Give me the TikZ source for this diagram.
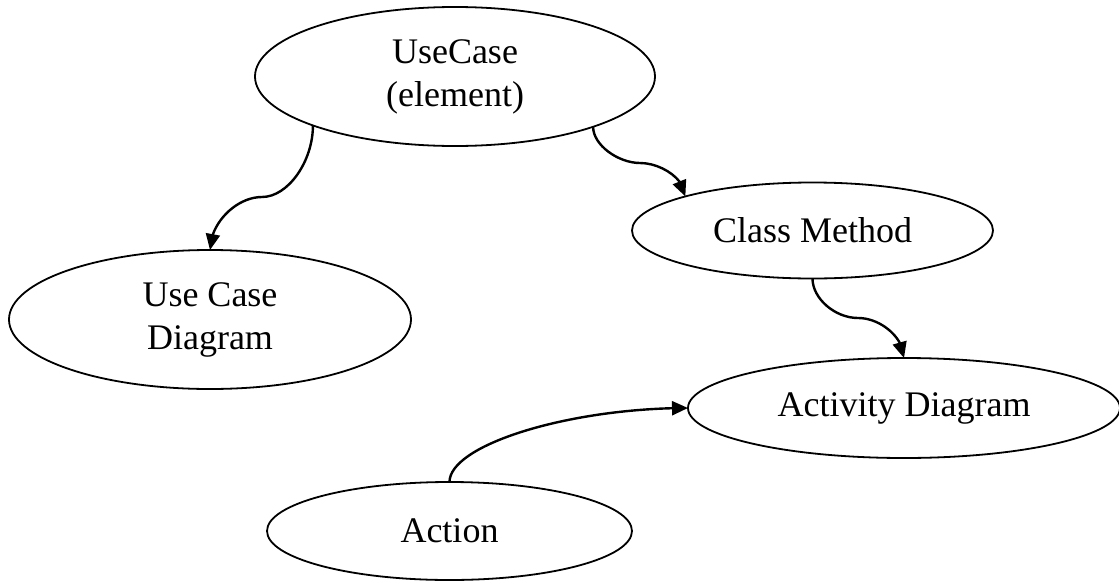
\documentclass[tikz,border=0pt]{standalone}
\usepackage{fontspec}
\setmainfont{Liberation Serif}
\usetikzlibrary{shapes.geometric,arrows.meta,bending}
\tikzset{
  oval/.style={ellipse, draw, line width=1.8pt, inner sep=0pt, outer sep=0pt,
    align=center, font=\fontsize{36}{43}\selectfont},
  link/.style={line width=2.4pt, -{Triangle[length=16pt,width=14pt]}}
}
\begin{document}
\begin{tikzpicture}[x=1pt, y=-1pt]
  \useasboundingbox (0,0) rectangle (1119,581);

  % elements
  \node[oval, minimum width=400pt, minimum height=139pt] (uc)  at (455,76.5)  {UseCase\\(element)};
  \node[oval, minimum width=402pt, minimum height=139pt] (ucd) at (210,319.5) {Use Case\\Diagram};
  \node[oval, minimum width=361pt, minimum height=96pt]  (cm)  at (812.5,230.5) {Class Method};
  \node[oval, minimum width=432pt, minimum height=100pt] (ad)  at (904,408)   {Activity Diagram};
  \node[oval, minimum width=365pt, minimum height=98pt]  (act) at (449.5,531) {Action};

  % turning points of the S-shaped links
  \coordinate (m1) at (262,197);
  \coordinate (m2) at (640,163);
  \coordinate (m3) at (858,318);

  % links
  \draw[link] (uc.199) .. controls +(0,36) and +(26,0) .. (m1)
                       .. controls +(-26,0) and +(0,-26.5) .. (ucd.north);
  \draw[link] (uc.340.8) .. controls +(0,18.5) and +(-21.5,0) .. (m2)
                         .. controls +(21.5,0) and +(0,-17) .. (cm.165.5);
  \draw[link] (cm.south) .. controls +(0,20) and +(-23,0) .. (m3)
                         .. controls +(23,0) and +(0,-20) .. (ad.north);
  \draw[link] (act.north) .. controls +(0,-37) and +(-119.5,0) .. (ad.west);
\end{tikzpicture}
\end{document}
